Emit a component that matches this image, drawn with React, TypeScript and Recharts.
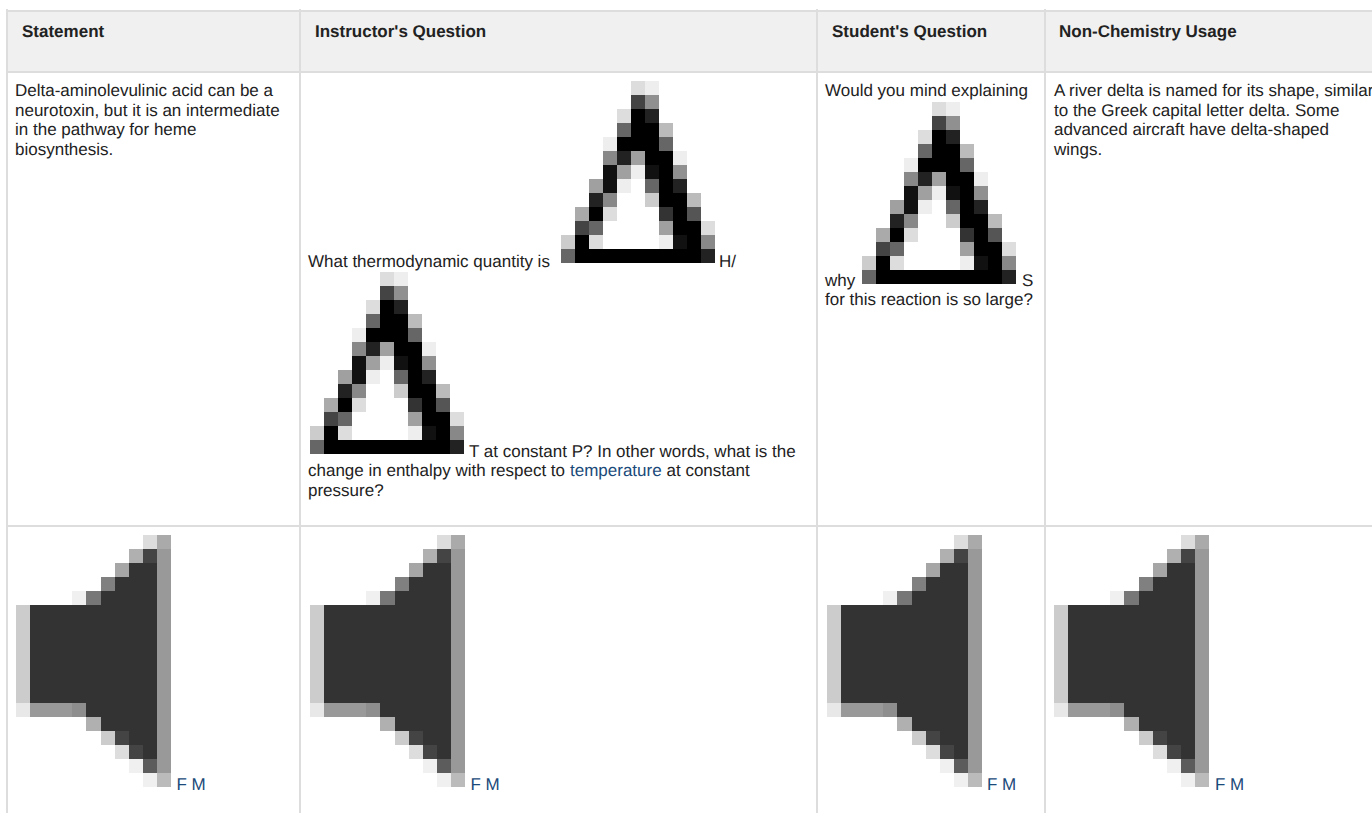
import React from 'react';
import { ScatterChart, Scatter, XAxis, YAxis, ReferenceLine, ReferenceArea } from 'recharts';

const WIDTH = 1372;
const HEIGHT = 813;
const FONT = '"Liberation Sans", Arial, sans-serif';
const FONT_SIZE = 17;
const CELL = 14;
const SPEAKER_CELL = 14.09;

// grey levels of the two small bitmaps, '' is a transparent cell
const deltaRows = [
  ['', '', '', '', '', 'ddd', 'eee', '', '', '', ''],
  ['', '', '', '', '', '444', '909090', '', '', '', ''],
  ['', '', '', '', 'ddd', '000', '222', '', '', '', ''],
  ['', '', '', '', '666', '000', '000', 'bbb', '', '', ''],
  ['', '', '', 'eee', '000', '000', '000', '666', '', '', ''],
  ['', '', '', '888', '222', 'a0a0a0', '000', '000', 'eee', '', ''],
  ['', '', '', '111', 'a0a0a0', 'eee', '111', '000', '909090', '', ''],
  ['', '', 'a0a0a0', '111', 'eee', '', '666', '000', '222', '', ''],
  ['', '', '222', '888', '', '', 'ccc', '000', '000', 'bbb', ''],
  ['', 'aaa', '000', 'ddd', '', '', '', '333', '000', '555', ''],
  ['', '444', '666', '', '', '', '', 'a0a0a0', '000', '000', 'ddd'],
  ['ccc', '000', 'ddd', '', '', '', '', 'eee', '111', '000', '888'],
  ['666', '000', '000', '000', '000', '000', '000', '000', '000', '000', '222'],
];

const speakerBody = ['ccc', '333', '333', '333', '333', '333', '333', '333', '333', '333', '999'];
const speakerRows = [
  ['', '', '', '', '', '', '', '', '', 'ddd', 'aaa'],
  ['', '', '', '', '', '', '', '', 'b0b0b0', '444', '999'],
  ['', '', '', '', '', '', '', 'a6a6a6', '333', '333', '999'],
  ['', '', '', '', '', '', '808080', '333', '333', '333', '999'],
  ['', '', '', '', 'f0f0f0', '777', '333', '333', '333', '333', '999'],
  speakerBody, speakerBody, speakerBody, speakerBody, speakerBody, speakerBody, speakerBody,
  ['e8e8e8', '999', '999', '999', '8e8e8e', '333', '333', '333', '333', '333', '999'],
  ['', '', '', '', '', 'b0b0b0', '333', '333', '333', '333', '999'],
  ['', '', '', '', '', '', 'ccc', '444', '333', '333', '999'],
  ['', '', '', '', '', '', '', 'ddd', '444', '333', '999'],
  ['', '', '', '', '', '', '', '', 'f0f0f0', '5c5c5c', '999'],
  ['', '', '', '', '', '', '', '', '', 'f0f0f0', 'bbb'],
];

const headers = ['Statement', "Instructor's Question", "Student's Question", 'Non-Chemistry Usage'];
const headerX = [22, 315, 832, 1059];

const columnEdges = [7, 300, 817, 1045];
const speakerX = [16, 310, 827, 1054];
const linkX = [176.5, 470.5, 987, 1215];

const DARK = '#222';
const LINK = '#1a4a7a';

const bodyLines = [
  { x: 15, y: 96, text: 'Delta-aminolevulinic acid can be a', color: DARK },
  { x: 15, y: 115.5, text: 'neurotoxin, but it is an intermediate', color: DARK },
  { x: 15, y: 135, text: 'in the pathway for heme', color: DARK },
  { x: 15, y: 154.5, text: 'biosynthesis.', color: DARK },
  { x: 308, y: 266.5, text: 'What thermodynamic quantity is', color: DARK },
  { x: 719, y: 266.5, text: 'H/', color: DARK },
  { x: 469, y: 456.5, text: 'T at constant P? In other words, what is the', color: DARK },
  { x: 308, y: 476, text: 'change in enthalpy with respect to', color: DARK },
  { x: 570, y: 476, text: 'temperature', color: LINK },
  { x: 666.5, y: 476, text: 'at constant', color: DARK },
  { x: 308, y: 495.5, text: 'pressure?', color: DARK },
  { x: 825, y: 96, text: 'Would you mind explaining', color: DARK },
  { x: 825, y: 285.5, text: 'why', color: DARK },
  { x: 1022, y: 285.5, text: 'S', color: DARK },
  { x: 825, y: 305, text: 'for this reaction is so large?', color: DARK },
  { x: 1054, y: 96, text: 'A river delta is named for its shape, similar', color: DARK },
  { x: 1054, y: 115.5, text: 'to the Greek capital letter delta. Some', color: DARK },
  { x: 1054, y: 135, text: 'advanced aircraft have delta-shaped', color: DARK },
  { x: 1054, y: 154.5, text: 'wings.', color: DARK },
];

const deltaOrigins = [
  { x: 561, y: 81 },
  { x: 310, y: 272 },
  { x: 862, y: 102 },
];

type Rows = string[][];

const toCells = (rows: Rows, ox: number, oy: number, cellW: number) =>
  rows.flatMap((row, r) =>
    row.flatMap((grey, c) =>
      grey ? [{ x: ox + c * cellW + cellW / 2, y: oy + r * CELL + CELL / 2, fill: `#${grey}` }] : [],
    ),
  );

const deltaCells = deltaOrigins.flatMap((o) => toCells(deltaRows, o.x, o.y, CELL));
const speakerCells = speakerX.flatMap((x) => toCells(speakerRows, x, 535, SPEAKER_CELL));

const headerPoints = headers.map((text, i) => ({ x: headerX[i], y: 37, text }));
const linkPoints = linkX.map((x) => ({ x, y: 790, text: 'F M', color: LINK }));

const DeltaCell = ({ cx, cy, payload }: any) => (
  <rect x={cx - CELL / 2} y={cy - CELL / 2} width={CELL} height={CELL} fill={payload.fill} shapeRendering="crispEdges" />
);

const SpeakerCell = ({ cx, cy, payload }: any) => (
  <rect
    x={cx - SPEAKER_CELL / 2}
    y={cy - CELL / 2}
    width={SPEAKER_CELL}
    height={CELL}
    fill={payload.fill}
    shapeRendering="crispEdges"
  />
);

const TextShape = ({ cx, cy, payload }: any) => (
  <text x={cx} y={cy} fill={payload.color} fontFamily={FONT} fontSize={FONT_SIZE} textRendering="geometricPrecision">
    {payload.text}
  </text>
);

const HeaderShape = ({ cx, cy, payload }: any) => (
  <text x={cx} y={cy} fill="#222" fontFamily={FONT} fontSize={FONT_SIZE} fontWeight="bold" textRendering="geometricPrecision">
    {payload.text}
  </text>
);

const GRID = '#ddd';

const App = () => (
  <div style={{ position: 'absolute', left: 0, top: 0, width: WIDTH, height: HEIGHT, background: '#fff' }}>
    <ScatterChart width={WIDTH} height={HEIGHT} margin={{ top: 0, right: 0, bottom: 0, left: 0 }}>
      <XAxis type="number" dataKey="x" domain={[0, WIDTH]} hide />
      <YAxis type="number" dataKey="y" domain={[0, HEIGHT]} reversed hide />
      <ReferenceArea x1={7} x2={WIDTH} y1={10} y2={72} fill="#f0f0f0" fillOpacity={1} stroke="none" />
      <ReferenceLine segment={[{ x: 7, y: 11 }, { x: WIDTH, y: 11 }]} stroke={GRID} strokeWidth={2} />
      <ReferenceLine segment={[{ x: 7, y: 72 }, { x: WIDTH, y: 72 }]} stroke={GRID} strokeWidth={2} />
      <ReferenceLine segment={[{ x: 7, y: 526 }, { x: WIDTH, y: 526 }]} stroke={GRID} strokeWidth={2} />
      {columnEdges.map((x) => (
        <ReferenceLine key={x} segment={[{ x, y: 9 }, { x, y: HEIGHT }]} stroke={GRID} strokeWidth={2} />
      ))}
      <Scatter data={deltaCells} shape={<DeltaCell />} isAnimationActive={false} />
      <Scatter data={speakerCells} shape={<SpeakerCell />} isAnimationActive={false} />
      <Scatter data={headerPoints} shape={<HeaderShape />} isAnimationActive={false} />
      <Scatter data={bodyLines} shape={<TextShape />} isAnimationActive={false} />
      <Scatter data={linkPoints} shape={<TextShape />} isAnimationActive={false} />
    </ScatterChart>
  </div>
);

export default App;
